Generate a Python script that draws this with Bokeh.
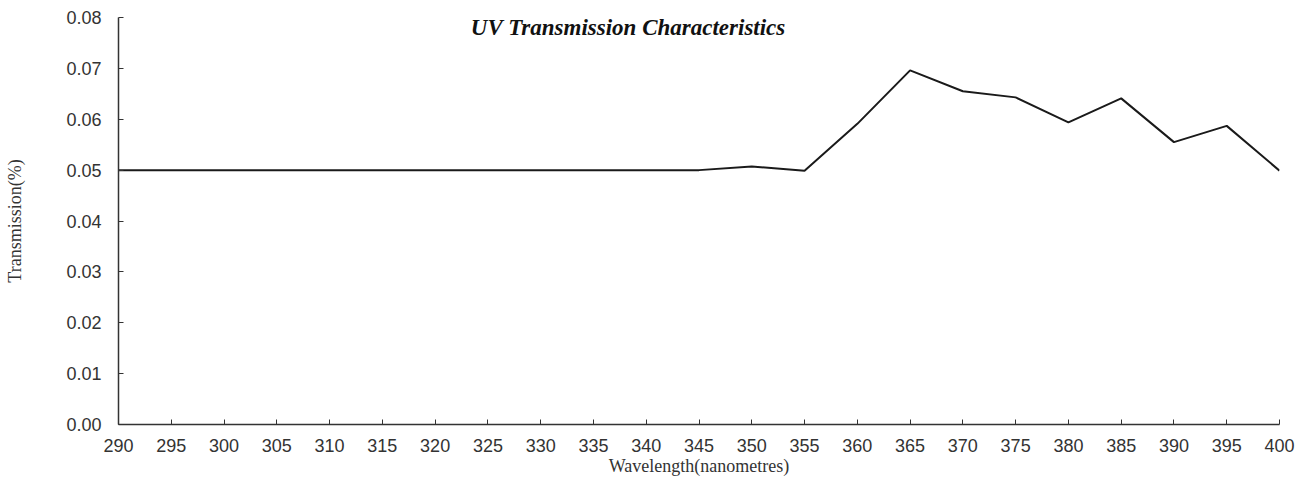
from bokeh.plotting import figure
from bokeh.models import FixedTicker, NumeralTickFormatter, Label, Range1d
from bokeh.embed import file_html
from bokeh.resources import INLINE

wavelength = [290, 295, 300, 305, 310, 315, 320, 325, 330, 335, 340, 345,
              350, 355, 360, 365, 370, 375, 380, 385, 390, 395, 400]
transmission = [0.050, 0.050, 0.050, 0.050, 0.050, 0.050, 0.050, 0.050, 0.050,
                0.050, 0.050, 0.050, 0.0507, 0.0499, 0.0591, 0.0696, 0.0655,
                0.0643, 0.0594, 0.0641, 0.0555, 0.0587, 0.0499]
x_ticks = list(range(290, 401, 5))
y_ticks = [0.00, 0.01, 0.02, 0.03, 0.04, 0.05, 0.06, 0.07, 0.08]
title_text = "UV Transmission Characteristics"
x_label = "Wavelength(nanometres)"
y_label = "Transmission(%)"

p = figure(width=1296, height=481, output_backend="svg", toolbar_location=None,
           x_range=Range1d(290, 400), y_range=Range1d(0, 0.08),
           min_border_left=118, min_border_right=17, min_border_top=17,
           min_border_bottom=57)
p.outline_line_color = None
p.xgrid.grid_line_color = None
p.ygrid.grid_line_color = None
p.background_fill_color = "white"

p.line(wavelength, transmission, line_color="#1a1a1a", line_width=2)

for ax in (p.xaxis, p.yaxis):
    ax.major_tick_in = 5
    ax.major_tick_out = 0
    ax.minor_tick_line_color = None
    ax.axis_line_color = "#333333"
    ax.axis_line_width = 1.5
    ax.major_tick_line_color = "#333333"
    ax.major_label_text_font = "Liberation Sans"
    ax.major_label_text_font_size = "18px"
    ax.major_label_text_color = "#333333"
    ax.axis_label_text_font = "Liberation Serif"
    ax.axis_label_text_font_style = "normal"
    ax.axis_label_text_font_size = "18px"
    ax.axis_label_text_color = "#333333"

p.xaxis.ticker = FixedTicker(ticks=x_ticks)
p.yaxis.ticker = FixedTicker(ticks=y_ticks)
p.yaxis.formatter = NumeralTickFormatter(format="0.00")
p.xaxis.major_label_standoff = 14
p.yaxis.major_label_standoff = 17
p.xaxis.axis_label = x_label
p.yaxis.axis_label = y_label
p.xaxis.axis_label_standoff = 1
p.yaxis.axis_label_standoff = 38

title = Label(x=338.3, y=0.078, text=title_text, text_align="center",
              text_baseline="middle", text_font="Liberation Serif",
              text_font_style="bold italic", text_font_size="23px",
              text_color="#111111")
p.add_layout(title)

open("out.html", "w").write(file_html(p, INLINE))
